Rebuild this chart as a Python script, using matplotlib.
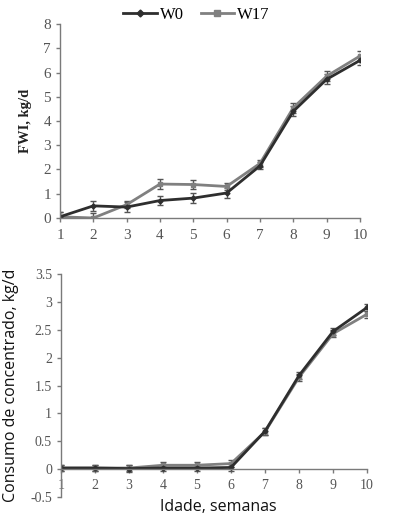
import matplotlib
matplotlib.use("Agg")
import matplotlib.pyplot as plt
from matplotlib.lines import Line2D

weeks = [1, 2, 3, 4, 5, 6, 7, 8, 9, 10]

fwi_w0 = [0.05, 0.5, 0.45, 0.72, 0.82, 1.03, 2.15, 4.4, 5.72, 6.5]
fwi_w17 = [0.05, 0.0, 0.55, 1.4, 1.38, 1.3, 2.25, 4.55, 5.85, 6.68]
fwi_err_w0 = [0.2, 0.2, 0.2, 0.2, 0.2, 0.2, 0.15, 0.2, 0.2, 0.2]
fwi_err_w17 = [0.2, 0.2, 0.15, 0.2, 0.2, 0.15, 0.15, 0.2, 0.2, 0.2]

conc_w0 = [0.02, 0.02, 0.01, 0.02, 0.02, 0.03, 0.68, 1.68, 2.47, 2.9]
conc_w17 = [0.02, 0.02, 0.02, 0.07, 0.07, 0.1, 0.67, 1.65, 2.43, 2.78]
conc_err_w0 = [0.06, 0.06, 0.06, 0.06, 0.06, 0.06, 0.06, 0.06, 0.06, 0.06]
conc_err_w17 = [0.06, 0.06, 0.06, 0.06, 0.06, 0.06, 0.06, 0.06, 0.06, 0.06]

series_labels = ["W0", "W17"]
c_w0 = "#2e2e2e"
c_w17 = "#808080"
serif = "Liberation Serif"
sans = "Open Sans"

fig = plt.figure(figsize=(3.93, 5.2), dpi=100)

ax1 = fig.add_axes([0.1527, 0.5808, 0.7633, 0.373])
ax2 = fig.add_axes([0.155, 0.0442, 0.779, 0.4288])

def style(ax, fs):
    for s in ["top", "right"]:
        ax.spines[s].set_visible(False)
    for s in ["left", "bottom"]:
        ax.spines[s].set_color("#7a7a7a")
        ax.spines[s].set_linewidth(1.0)
    ax.tick_params(axis="both", colors="#7a7a7a", length=3, width=1.0,
                   labelcolor="#555555", labelsize=fs)
    for lab in ax.get_xticklabels() + ax.get_yticklabels():
        lab.set_fontfamily(serif)

# Top panel
ax1.errorbar(weeks, fwi_w17, yerr=fwi_err_w17, color=c_w17, lw=2.0,
             marker="s", ms=2.5, capsize=2.5, elinewidth=1.0, ecolor="#555555")
ax1.errorbar(weeks, fwi_w0, yerr=fwi_err_w0, color=c_w0, lw=2.0,
             marker="D", ms=2.5, capsize=2.5, elinewidth=1.0, ecolor="#555555")
ax1.set_xlim(1, 10)
ax1.set_ylim(0, 8)
ax1.set_xticks(weeks)
ax1.set_yticks(range(0, 9))
style(ax1, 11)
ax1.tick_params(axis="x", pad=5)
ax1.set_ylabel("FWI, kg/d", fontfamily=serif, fontweight="bold", fontsize=10.5,
               color="#222222", labelpad=8)

# Bottom panel
ax2.errorbar(weeks, conc_w17, yerr=conc_err_w17, color=c_w17, lw=2.0,
             marker="s", ms=2.5, capsize=2.5, elinewidth=1.0, ecolor="#555555")
ax2.errorbar(weeks, conc_w0, yerr=conc_err_w0, color=c_w0, lw=2.0,
             marker="D", ms=2.5, capsize=2.5, elinewidth=1.0, ecolor="#555555")
ax2.set_xlim(1, 10)
ax2.set_ylim(-0.5, 3.5)
ax2.set_xticks(weeks)
ax2.set_yticks([-0.5, 0, 0.5, 1, 1.5, 2, 2.5, 3, 3.5])
ax2.set_yticklabels(["-0.5", "0", "0.5", "1", "1.5", "2", "2.5", "3", "3.5"])
ax2.spines["bottom"].set_position(("data", 0))
style(ax2, 10)
ax2.tick_params(axis="x", pad=4)
ax2.set_ylabel("Consumo de concentrado, kg/d", fontfamily=sans, fontsize=11.5,
               color="#111111", labelpad=8)
fig.text(218 / 393, 1 - 507 / 520, "Idade, semanas", fontfamily=sans,
         fontsize=11.5, color="#111111", ha="center", va="center")

# Legend
handles = [Line2D([0], [0], color=c_w0, lw=2.0, marker="D", ms=3.5),
           Line2D([0], [0], color=c_w17, lw=2.0, marker="s", ms=4)]
fig.legend(handles, series_labels, loc="upper center", bbox_to_anchor=(0.5, 1.015),
           ncol=2, frameon=False, handlelength=2.0, handletextpad=0.2,
           columnspacing=1.0, prop={"family": serif, "size": 12})

fig.savefig("out.png", dpi=100)
